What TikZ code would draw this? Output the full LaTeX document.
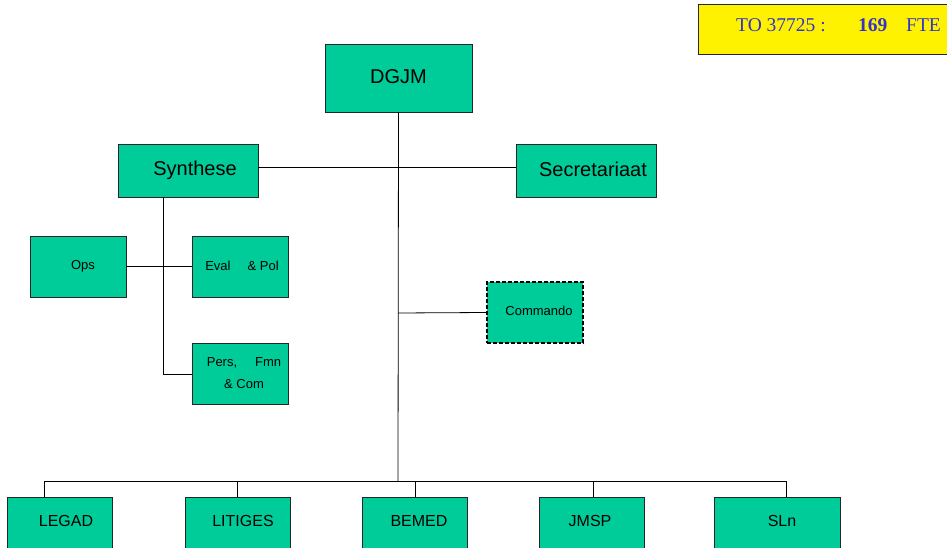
\documentclass[tikz,border=0pt]{standalone}
\usepackage{fontspec}
\setmainfont{Liberation Sans}
\newfontfamily\timesfont{Liberation Serif}
\begin{document}
\begin{tikzpicture}[x=1pt,y=-1pt,
  unit/.style={draw=black!85,line width=0.9pt,fill=boxgreen,rectangle,inner sep=0pt,font=\fontsize{13}{15}\selectfont},
  bigunit/.style={unit,font=\fontsize{20}{24}\selectfont},
  botunit/.style={unit,font=\fontsize{16}{19}\selectfont,minimum width=105,minimum height=60},
  smallunit/.style={unit,minimum width=96,minimum height=61},
  botlab/.style={font=\fontsize{16}{19}\selectfont,inner sep=0pt},
  tolabel/.style={anchor=base west,text=toblue,inner sep=0pt},
  link/.style={draw=black,line width=0.8pt}]
\definecolor{boxgreen}{HTML}{00CC99}
\definecolor{toblue}{HTML}{3333CC}
\useasboundingbox (0,0) rectangle (947,548);
% TO box
\node[draw=black!85,line width=0.8pt,fill=yellow,minimum width=260,minimum height=50,anchor=north west,inner sep=0pt] (to) at (698,4) {};
\node[tolabel,font=\timesfont\fontsize{19.5}{22}\selectfont] (tolab) at (736,32) {TO 37725 :};
\node[tolabel,font=\timesfont\bfseries\fontsize{19.5}{22}\selectfont] (tonum) at (858,32) {169};
\node[tolabel,font=\timesfont\fontsize{19.5}{22}\selectfont] (tofte) at (906,32) {FTE};
% top boxes
\node[bigunit,minimum width=147,minimum height=68] (dgjm) at (398.5,78) {\raisebox{3pt}{DGJM}};
\node[bigunit,minimum width=140,minimum height=53] (syn) at (188,170.5) {\hspace{14pt}\raisebox{3pt}{Synthese}};
\node[bigunit,minimum width=140,minimum height=53] (sec) at (586,170.5) {\hspace{14pt}\raisebox{3pt}{Secretariaat}};
% small boxes
\node[smallunit] (ops) at (78,266.5) {\hspace{10pt}Ops};
\node[smallunit] (eval) at (240,266.5) {\hspace{4pt}\raisebox{2pt}{Eval\hspace{17pt}\& Pol}};
\node[smallunit,align=center] (pers) at (240,373.5) {\hspace{8pt}Pers,\hspace{18pt}Fmn\\[7pt]\hspace{8pt}\& Com};
\node[unit,minimum width=96,minimum height=61,draw=black,line width=1.8pt,dash pattern=on 4pt off 2pt] (cmd) at (535,312.5) {\hspace{8pt}\raisebox{4pt}{Commando}};
% bottom boxes
\node[botunit,minimum width=105] (legad) at (59.5,527) {};
\node[botunit,minimum width=105] (litig) at (237.5,527) {};
\node[botunit,minimum width=105] (bemed) at (414.5,527) {};
\node[botunit,minimum width=105] (jmsp) at (592,527) {};
\node[botunit,minimum width=126] (sln) at (777.5,527) {};
\node[botlab] (legadl) at (66,521) {LEGAD};
\node[botlab] (litigl) at (243,521) {LITIGES};
\node[botlab] (bemedl) at (419,521) {BEMED};
\node[botlab] (jmspl) at (590,521) {JMSP};
\node[botlab] (slnl) at (782,521) {SLn};
% coordinates
\coordinate (trunkbot) at (398,481);
\coordinate (synbot) at (163,197);
\coordinate (persj) at (163,374);
\coordinate (cmdj) at (398,313);
\coordinate (hl) at (258,167);
\coordinate (hr) at (516,167);
\coordinate (bl) at (44,481);
\coordinate (br) at (786,481);
% connectors
\path[link] (dgjm.south) -- (trunkbot);
\path[link] (hl) -- (hr);
\path[link] (cmdj) -- (cmd.west);
\path[link] (synbot) -- (persj) -- (pers.west |- persj);
\path[link] (ops.east) -- (eval.west);
\path[link] (bl) -- (br);
\path[link] (bl) -- (44,497);
\path[link] (237,481) -- (237,497);
\path[link] (415,481) -- (415,497);
\path[link] (593,481) -- (593,497);
\path[link] (br) -- (786,497);
\end{tikzpicture}
\end{document}
